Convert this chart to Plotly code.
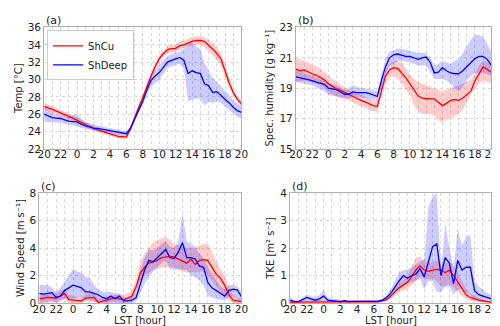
import plotly.graph_objects as go

# hours since 20 LST, half-hourly
hours = [i * 0.5 for i in range(49)]
tick_pos = [0, 2, 4, 6, 8, 10, 12, 14, 16, 18, 20, 22, 24]
tick_lbl = ['20', '22', '0', '2', '4', '6', '8', '10', '12', '14', '16', '18', '20']

# (a) temperature
temp_cu = [26.9, 26.75, 26.55, 26.35, 26.15, 25.95, 25.8, 25.55, 25.3, 25.05, 24.8, 24.55, 24.35, 24.2, 24.05, 23.9, 23.75,
           23.6, 23.45, 23.4, 23.35, 24.3, 25.6, 26.8, 27.9, 29.2, 30.4, 31.5, 32.4, 33.0, 33.45, 33.55, 33.6, 33.9, 34.0,
           34.2, 34.4, 34.5, 34.5, 34.4, 34.0, 33.5, 33.0, 32.4, 31.0, 29.6, 28.5, 27.7, 27.2]
temp_cu_lo = [26.5, 26.4, 26.2, 26.0, 25.85, 25.65, 25.5, 25.25, 24.95, 24.7, 24.5, 24.3, 24.1, 23.95, 23.8, 23.65, 23.5,
              23.35, 23.25, 23.2, 23.15, 24.0, 25.3, 26.5, 27.6, 28.9, 30.0, 31.1, 32.0, 32.6, 33.0, 33.1, 33.2, 33.5, 33.6,
              33.8, 33.9, 34.0, 34.0, 33.8, 33.3, 32.8, 32.3, 31.7, 30.3, 29.1, 28.1, 27.4, 26.9]
temp_cu_hi = [27.35, 27.15, 26.9, 26.7, 26.5, 26.3, 26.1, 25.85, 25.6, 25.4, 25.1, 24.85, 24.65, 24.45, 24.3, 24.15, 24.0,
              23.85, 23.7, 23.6, 23.55, 24.6, 25.9, 27.1, 28.2, 29.5, 30.8, 31.9, 32.8, 33.4, 33.9, 34.0, 34.1, 34.4, 34.5,
              34.7, 34.9, 35.0, 35.0, 34.9, 34.6, 34.2, 33.7, 33.1, 31.7, 30.2, 29.0, 28.1, 27.5]
temp_dp = [26.0, 25.8, 25.6, 25.55, 25.5, 25.35, 25.2, 25.15, 25.1, 24.85, 24.65, 24.55, 24.4, 24.35, 24.3, 24.2, 24.1,
           24.0, 23.95, 23.85, 23.75, 24.4, 25.4, 26.5, 27.5, 28.8, 29.9, 30.4, 30.8, 31.4, 32.0, 32.2, 32.4, 32.55, 32.2,
           30.7, 31.0, 30.8, 30.7, 29.5, 29.3, 28.5, 28.6, 28.2, 27.8, 27.3, 26.8, 26.4, 26.2]
temp_dp_lo = [25.1, 25.1, 25.1, 25.05, 25.0, 24.9, 24.8, 24.7, 24.6, 24.4, 24.3, 24.2, 24.1, 24.05, 24.0, 23.9, 23.85,
              23.75, 23.65, 23.55, 23.5, 24.2, 25.1, 26.1, 27.0, 28.2, 29.2, 29.6, 29.9, 30.6, 31.3, 31.5, 31.7, 31.8, 31.2,
              27.5, 27.7, 27.8, 27.8, 27.0, 27.4, 27.3, 27.5, 27.3, 26.9, 26.5, 26.0, 25.7, 25.5]
temp_dp_hi = [26.9, 26.5, 26.2, 26.0, 25.9, 25.8, 25.7, 25.9, 26.0, 25.5, 25.1, 24.95, 24.8, 24.7, 24.6, 24.5, 24.4,
              24.3, 24.2, 24.1, 24.0, 24.6, 25.7, 26.9, 28.0, 29.4, 30.6, 31.1, 31.6, 32.2, 32.7, 32.9, 33.1, 33.2, 33.5,
              33.9, 34.3, 33.8, 33.5, 31.9, 31.0, 30.2, 29.7, 29.2, 28.8, 28.2, 27.6, 27.2, 26.9]

# (b) specific humidity
q_cu = [20.25, 20.15, 20.2, 20.05, 19.95, 19.85, 19.7, 19.55, 19.3, 19.1, 18.95, 18.85, 18.75, 18.6, 18.45, 18.3, 18.2,
        18.1, 17.95, 17.85, 17.8, 18.9, 19.8, 20.2, 20.35, 20.3, 20.0, 19.7, 19.3, 18.9, 18.5, 18.35, 18.3, 18.3, 18.3,
        18.1, 17.85, 18.0, 18.2, 18.25, 18.2, 18.35, 18.6, 18.8, 19.5, 20.0, 20.4, 20.25, 20.05]
q_cu_lo = [19.4, 19.45, 19.5, 19.45, 19.4, 19.3, 19.2, 19.0, 18.7, 18.55, 18.45, 18.35, 18.3, 18.2, 18.05, 17.9, 17.8,
           17.7, 17.55, 17.5, 17.45, 18.4, 19.4, 19.7, 19.8, 19.6, 19.3, 18.9, 18.6, 17.9, 17.5, 17.3, 17.3, 17.3, 17.2,
           16.9, 16.7, 17.0, 17.0, 17.2, 17.3, 17.6, 18.0, 18.6, 19.0, 19.3, 19.5, 19.4, 19.3]
q_cu_hi = [21.0, 20.9, 20.8, 20.7, 20.6, 20.45, 20.3, 20.1, 19.85, 19.6, 19.4, 19.2, 19.05, 18.9, 18.8, 18.7, 18.6,
           18.45, 18.3, 18.2, 18.15, 19.3, 20.2, 20.6, 20.8, 20.8, 20.7, 20.3, 19.9, 19.6, 19.4, 19.3, 19.2, 19.1, 19.0,
           18.9, 18.8, 18.9, 19.0, 19.1, 19.2, 19.3, 19.4, 19.6, 20.0, 20.5, 20.8, 20.7, 20.5]
q_dp = [19.75, 19.7, 19.6, 19.55, 19.5, 19.4, 19.3, 19.25, 19.0, 18.95, 18.9, 18.75, 18.6, 18.6, 18.75, 18.7, 18.7,
        18.7, 18.65, 18.55, 18.45, 19.5, 20.4, 21.0, 21.2, 21.25, 21.15, 21.1, 21.1, 21.0, 20.9, 21.0, 21.05, 20.7, 20.0,
        20.05, 20.35, 20.15, 20.0, 19.95, 19.95, 20.15, 20.4, 20.7, 20.95, 21.1, 21.1, 20.9, 20.5]
q_dp_lo = [19.4, 19.35, 19.3, 19.25, 19.2, 19.05, 18.9, 18.8, 18.55, 18.5, 18.45, 18.35, 18.3, 18.3, 18.4, 18.4, 18.4,
           18.35, 18.3, 18.25, 18.2, 19.0, 19.9, 20.5, 20.6, 20.8, 20.8, 20.75, 20.7, 20.6, 20.5, 20.5, 20.5, 20.1, 19.6,
           19.6, 19.6, 19.5, 19.3, 19.0, 18.8, 19.1, 19.5, 19.8, 20.0, 20.0, 20.0, 19.9, 19.8]
q_dp_hi = [20.2, 20.1, 20.0, 19.9, 19.8, 19.7, 19.6, 19.5, 19.3, 19.25, 19.2, 19.05, 18.9, 19.0, 19.2, 19.1, 19.0,
           19.0, 18.95, 18.85, 18.8, 19.9, 20.9, 21.4, 21.5, 21.6, 21.6, 21.55, 21.5, 21.4, 21.3, 21.35, 21.3, 21.0, 20.5,
           20.6, 20.8, 20.7, 20.6, 20.8, 20.9, 21.3, 21.8, 22.2, 22.5, 22.5, 22.4, 21.9, 21.4]

# (c) wind speed
ws_cu = [0.3, 0.35, 0.4, 0.38, 0.35, 0.5, 0.7, 0.25, 0.2, 0.15, 0.15, 0.35, 0.4, 0.4, 0.05, 0.1, 0.2,
         0.3, 0.35, 0.3, 0.25, 0.35, 0.5, 1.2, 2.2, 2.6, 2.9, 3.0, 3.1, 3.3, 3.35, 3.4, 3.35, 3.2, 3.1,
         2.9, 3.2, 2.8, 3.1, 3.15, 3.1, 2.6, 2.1, 1.8, 1.3, 0.6, 0.2, 0.15, 0.1]
ws_cu_lo = [0.0, 0.0, 0.05, 0.05, 0.05, 0.2, 0.3, 0.0, 0.0, 0.0, 0.0, 0.1, 0.15, 0.1, 0.0, 0.0, 0.0,
            0.05, 0.1, 0.05, 0.0, 0.1, 0.2, 0.8, 1.7, 2.0, 2.2, 2.4, 2.5, 2.6, 2.6, 2.6, 2.6, 2.4, 2.3,
            2.2, 2.3, 2.2, 2.3, 2.3, 2.0, 1.6, 1.2, 0.8, 0.5, 0.2, 0.0, 0.0, 0.0]
ws_cu_hi = [0.7, 0.7, 0.75, 0.75, 0.7, 0.9, 1.0, 0.6, 0.5, 0.45, 0.4, 0.6, 0.7, 0.7, 0.3, 0.4, 0.5,
            0.55, 0.6, 0.6, 0.6, 0.7, 0.9, 1.7, 3.0, 3.6, 4.0, 4.4, 4.6, 4.7, 4.8, 4.6, 4.3, 4.2, 4.2,
            4.0, 4.0, 4.0, 4.2, 4.3, 4.3, 3.7, 3.0, 2.5, 2.0, 1.2, 0.6, 0.4, 0.3]
ws_dp = [0.7, 0.65, 0.7, 0.75, 0.4, 0.5, 0.9, 1.1, 1.3, 1.2, 1.1, 0.8, 0.8, 0.7, 0.6, 0.4, 0.3,
         0.5, 0.3, 0.5, 0.15, 0.15, 0.2, 0.4, 1.5, 2.4, 3.1, 3.0, 3.3, 3.6, 3.9, 3.3, 3.25, 3.7, 4.4,
         3.3, 3.3, 3.2, 2.7, 2.6, 1.5, 1.1, 0.9, 0.7, 0.5, 0.9, 1.0, 0.95, 0.45]
ws_dp_lo = [0.0, 0.05, 0.1, 0.15, 0.0, 0.1, 0.3, 0.3, 0.3, 0.4, 0.4, 0.3, 0.2, 0.1, 0.0, 0.0, 0.0,
            0.0, 0.0, 0.0, 0.0, 0.0, 0.0, 0.1, 0.8, 1.4, 1.9, 2.3, 2.6, 2.9, 3.1, 2.5, 2.4, 2.5, 2.4,
            2.4, 2.0, 1.9, 1.6, 1.3, 0.5, 0.4, 0.3, 0.2, 0.2, 0.4, 0.5, 0.3, 0.0]
ws_dp_hi = [1.3, 1.3, 1.3, 1.1, 0.8, 1.1, 1.6, 2.0, 2.5, 2.3, 2.2, 1.9, 1.8, 1.3, 1.0, 0.8, 0.8,
            0.8, 0.7, 0.7, 0.4, 0.4, 0.5, 0.8, 2.4, 3.3, 3.9, 3.8, 4.0, 4.3, 4.5, 4.1, 4.0, 4.5, 6.5,
            4.5, 4.3, 4.1, 3.6, 3.3, 2.6, 2.1, 1.6, 1.2, 1.0, 1.3, 1.3, 1.2, 0.8]

# (d) TKE
tke_cu = [0.03, 0.03, 0.05, 0.05, 0.05, 0.05, 0.05, 0.05, 0.05, 0.05, 0.05, 0.05, 0.05, 0.05, 0.05, 0.05, 0.05,
          0.05, 0.05, 0.05, 0.05, 0.05, 0.08, 0.12, 0.25, 0.4, 0.55, 0.65, 0.75, 0.95, 1.2, 1.35, 1.2, 1.15, 1.2,
          1.22, 1.2, 1.1, 1.2, 1.0, 0.75, 0.5, 0.3, 0.2, 0.15, 0.1, 0.08, 0.05, 0.03]
tke_cu_lo = [0.0, 0.0, 0.0, 0.0, 0.0, 0.0, 0.0, 0.0, 0.0, 0.0, 0.0, 0.0, 0.0, 0.0, 0.0, 0.0, 0.0,
             0.0, 0.0, 0.0, 0.0, 0.0, 0.03, 0.06, 0.15, 0.28, 0.4, 0.45, 0.5, 0.65, 0.8, 0.95, 0.9, 0.85, 0.9,
             0.8, 0.6, 0.6, 0.7, 0.55, 0.4, 0.25, 0.15, 0.08, 0.05, 0.03, 0.02, 0.0, 0.0]
tke_cu_hi = [0.08, 0.08, 0.1, 0.1, 0.1, 0.1, 0.12, 0.1, 0.1, 0.1, 0.1, 0.1, 0.1, 0.1, 0.1, 0.1, 0.1,
             0.1, 0.1, 0.1, 0.1, 0.1, 0.13, 0.2, 0.35, 0.55, 0.7, 0.85, 1.0, 1.3, 1.65, 1.7, 1.5, 1.45, 1.5,
             1.55, 1.5, 1.45, 1.5, 1.4, 1.1, 0.8, 0.5, 0.35, 0.25, 0.18, 0.12, 0.1, 0.08]
tke_dp = [0.1, 0.05, 0.05, 0.12, 0.2, 0.15, 0.1, 0.15, 0.25, 0.1, 0.08, 0.08, 0.05, 0.08, 0.05, 0.06, 0.06,
          0.06, 0.05, 0.05, 0.05, 0.06, 0.1, 0.2, 0.35, 0.6, 0.8, 1.0, 0.9, 1.0, 1.05, 1.25, 0.95, 1.5, 2.05,
          2.15, 1.0, 1.65, 1.45, 0.7, 1.55, 1.2, 1.3, 1.3, 0.45, 0.3, 0.25, 0.2, 0.15]
tke_dp_lo = [0.0, 0.0, 0.0, 0.05, 0.1, 0.05, 0.05, 0.05, 0.1, 0.03, 0.02, 0.02, 0.0, 0.0, 0.0, 0.0, 0.0,
             0.0, 0.0, 0.0, 0.0, 0.0, 0.05, 0.1, 0.2, 0.4, 0.5, 0.65, 0.7, 0.75, 0.8, 0.9, 0.5, 0.8, 0.8,
             0.4, 0.4, 0.6, 0.6, 0.3, 0.5, 0.5, 0.4, 0.3, 0.1, 0.1, 0.1, 0.1, 0.1]
tke_dp_hi = [0.2, 0.12, 0.1, 0.2, 0.3, 0.25, 0.2, 0.3, 0.45, 0.2, 0.15, 0.15, 0.12, 0.12, 0.1, 0.1, 0.1,
             0.1, 0.1, 0.1, 0.1, 0.12, 0.15, 0.3, 0.5, 0.8, 1.1, 1.2, 1.2, 1.3, 1.4, 1.5, 1.6, 3.5, 3.9,
             4.0, 1.2, 2.85, 2.0, 1.2, 2.7, 2.1, 2.4, 2.5, 0.8, 0.6, 0.5, 0.35, 0.3]

W, H = 500, 326


def px(x0, x1):
    return [x0 / W, x1 / W]


def py(top, bottom):
    return [1 - bottom / H, 1 - top / H]


panels = [
    dict(ax='', cu=(temp_cu, temp_cu_lo, temp_cu_hi), dp=(temp_dp, temp_dp_lo, temp_dp_hi),
         xdom=px(30, 233), ydom=py(14, 140), yr=[22, 36], dt=2, t0=22,
         ytitle='Temp [°C]', xtitle=None, label='(a)'),
    dict(ax='2', cu=(q_cu, q_cu_lo, q_cu_hi), dp=(q_dp, q_dp_lo, q_dp_hi),
         xdom=px(289, 490), ydom=py(14, 140), yr=[15, 23], dt=2, t0=15,
         ytitle='Spec. humidity [g kg⁻¹]', xtitle=None, label='(b)'),
    dict(ax='3', cu=(ws_cu, ws_cu_lo, ws_cu_hi), dp=(ws_dp, ws_dp_lo, ws_dp_hi),
         xdom=px(25, 233), ydom=py(186, 300), yr=[0, 8], dt=2, t0=0,
         ytitle='Wind Speed [m s⁻¹]', xtitle='LST [hour]', label='(c)'),
    dict(ax='4', cu=(tke_cu, tke_cu_lo, tke_cu_hi), dp=(tke_dp, tke_dp_lo, tke_dp_hi),
         xdom=px(283, 490), ydom=py(186, 300), yr=[0, 4], dt=1, t0=0,
         ytitle='TKE [m² s⁻²]', xtitle='LST [hour]', label='(d)'),
]

RED = '#ff0000'
BLUE = '#0000ff'
BAND_RED = 'rgba(255,0,0,0.2)'
BAND_BLUE = 'rgba(0,0,255,0.2)'
TXT = '#222222'

fig = go.Figure()
layout = {}
annotations = []

for k, p in enumerate(panels):
    xa, ya = 'x' + p['ax'], 'y' + p['ax']
    for (mean, lo, hi), band in ((p['cu'], BAND_RED), (p['dp'], BAND_BLUE)):
        fig.add_trace(go.Scatter(x=hours, y=lo, mode='lines', line=dict(width=0), xaxis=xa, yaxis=ya,
                                 showlegend=False, hoverinfo='skip'))
        fig.add_trace(go.Scatter(x=hours, y=hi, mode='lines', line=dict(width=0), fill='tonexty',
                                 fillcolor=band, xaxis=xa, yaxis=ya, showlegend=False, hoverinfo='skip'))
    fig.add_trace(go.Scatter(x=hours, y=p['cu'][0], mode='lines', line=dict(color=RED, width=1.3),
                             name='ShCu', xaxis=xa, yaxis=ya, showlegend=(k == 0)))
    fig.add_trace(go.Scatter(x=hours, y=p['dp'][0], mode='lines', line=dict(color=BLUE, width=1.3),
                             name='ShDeep', xaxis=xa, yaxis=ya, showlegend=(k == 0)))

    layout['xaxis' + p['ax']] = dict(
        domain=p['xdom'], anchor=ya, range=[0, 24], tickmode='array', tickvals=tick_pos, ticktext=tick_lbl,
        showgrid=True, gridcolor='#d8d8d8', griddash='dot', gridwidth=1,
        minor=dict(dtick=1, tick0=0, showgrid=True, gridcolor='#d8d8d8', griddash='dot', gridwidth=1),
        showline=True, linecolor='#b0b0b0', linewidth=1, mirror=True, zeroline=False,
        ticks='', ticklabelstandoff=-4, tickfont=dict(size=10.5, color=TXT))
    layout['yaxis' + p['ax']] = dict(
        domain=p['ydom'], anchor=xa, range=p['yr'], dtick=p['dt'], tick0=p['t0'],
        showgrid=True, gridcolor='#d8d8d8', griddash='dot', gridwidth=1,
        showline=True, linecolor='#b0b0b0', linewidth=1, mirror=True, zeroline=False,
        ticks='', tickfont=dict(size=10.5, color=TXT),
        title=dict(text=p['ytitle'], font=dict(size=10, color=TXT), standoff=3))
    annotations.append(dict(text=p['label'], x=p['xdom'][0], y=p['ydom'][1], xref='paper', yref='paper',
                            xanchor='left', yanchor='bottom', showarrow=False, yshift=-2,
                            font=dict(size=11, color=TXT)))
    if p['xtitle']:
        annotations.append(dict(text=p['xtitle'], x=sum(p['xdom']) / 2, y=0,
                                xref='paper', yref='paper', xanchor='center', yanchor='bottom',
                                showarrow=False, borderpad=0, yshift=1, font=dict(size=10, color=TXT)))

fig.update_layout(
    width=W, height=H,
    margin=dict(l=0, r=0, t=0, b=0),
    paper_bgcolor='white', plot_bgcolor='white',
    font=dict(family='DejaVu Sans', color=TXT),
    annotations=annotations,
    legend=dict(x=33 / W, y=1 - 17 / H, xanchor='left', yanchor='top',
                bgcolor='rgba(255,255,255,0.9)', traceorder='normal',
                bordercolor='#cccccc', borderwidth=1, font=dict(size=10), tracegroupgap=0,
                itemwidth=30),
    **layout
)

fig.write_html('out.html')
